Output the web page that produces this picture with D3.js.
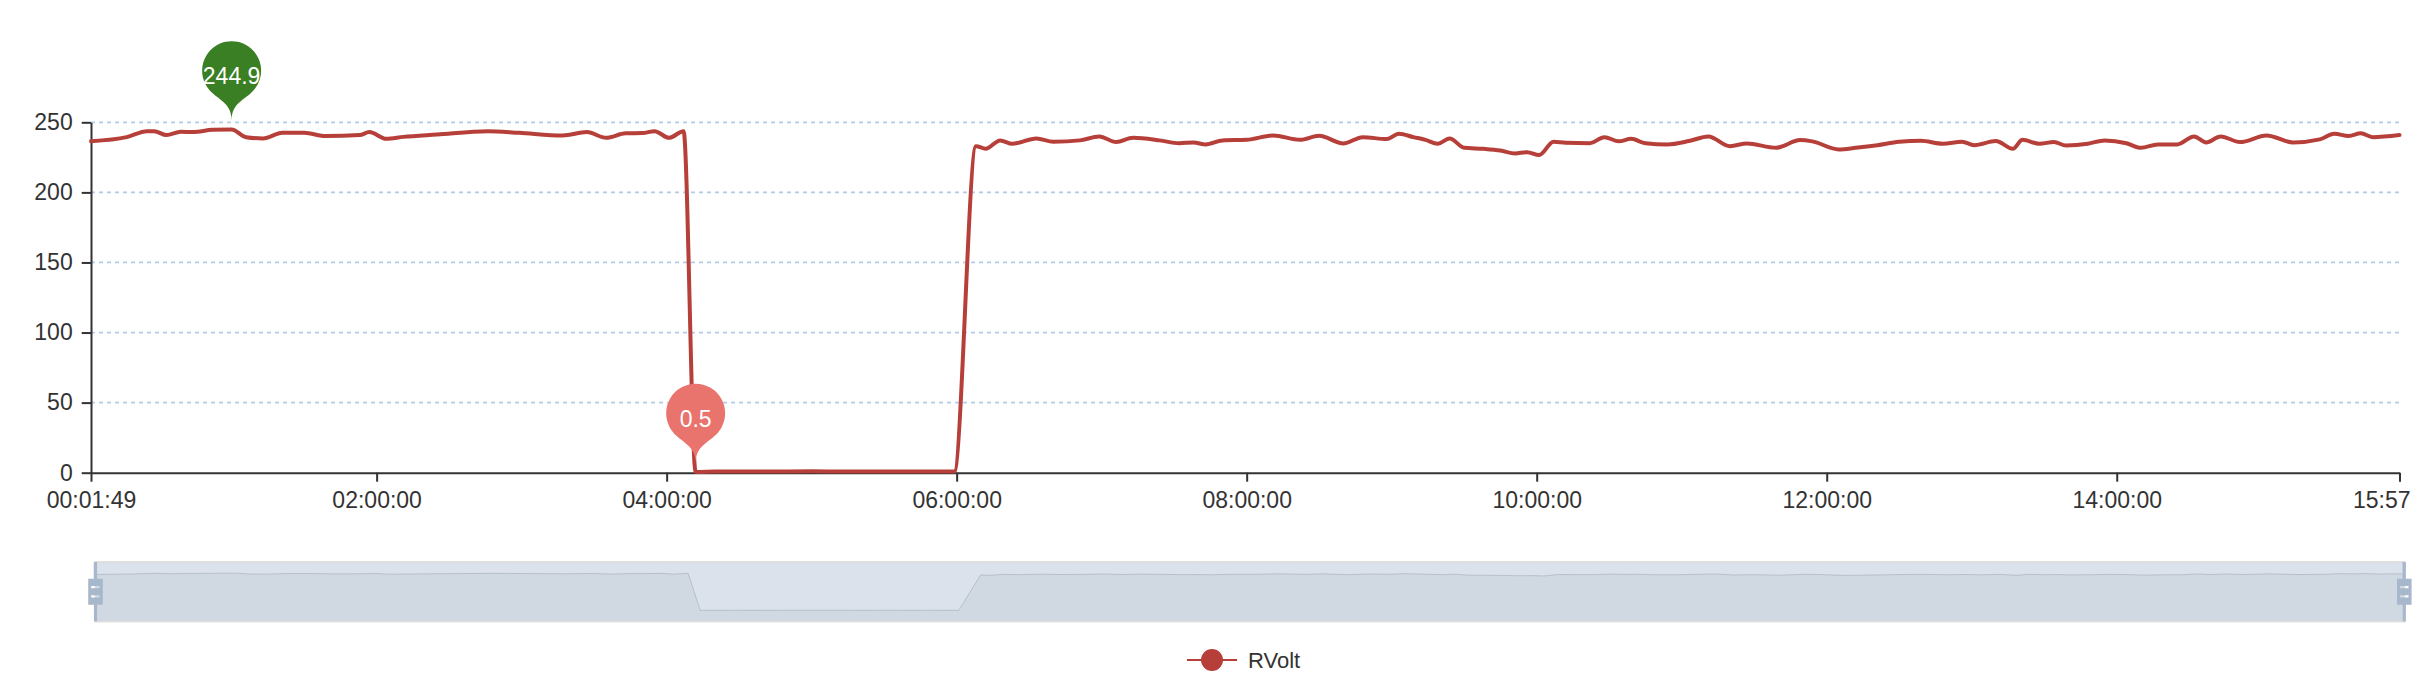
<!DOCTYPE html>
<html><head><meta charset="utf-8">
<script src="https://cdn.jsdelivr.net/npm/d3@7"></script>
<style>
body{margin:0;background:#fff}
svg{display:block}
text{font-family:"Liberation Sans",Arial,Helvetica,sans-serif}
</style>
</head><body>
<svg id="chart" width="2414" height="690"></svg>
<script>
const seriesName = "RVolt";
const times = [
"00:01:49","00:16:33","00:25:00","00:28:00","00:33:00","00:39:00","00:44:00","00:52:00","01:00:00","01:06:00",
"01:13:00","01:21:00","01:30:00","01:39:00","01:53:00","01:57:00","02:04:00","02:11:00","02:25:00","02:46:00",
"02:59:00","03:17:00","03:27:00","03:35:00","03:43:00","03:50:00","03:55:00","04:01:00","04:07:00","04:12:00",
"04:20:00","04:30:00","04:40:00","04:50:00","05:00:00","05:10:00","05:20:00","05:30:00","05:40:00","05:50:00",
"05:59:00","06:08:00","06:12:00","06:18:00","06:23:00","06:33:00","06:40:00","06:51:00","06:59:00","07:06:00",
"07:13:00","07:24:00","07:32:00","07:38:00","07:43:00","07:50:00","08:00:00","08:11:00","08:22:00","08:30:00",
"08:40:00","08:48:00","08:58:00","09:03:00","09:09:00","09:14:00","09:19:00","09:24:00","09:30:00","09:38:00",
"09:45:00","09:51:00","09:56:00","10:01:00","10:07:00","10:12:00","10:22:00","10:28:00","10:34:00","10:39:00",
"10:45:00","10:54:00","11:03:00","11:11:00","11:20:00","11:27:00","11:39:00","11:49:00","11:54:00","12:05:00",
"12:12:00","12:21:00","12:30:00","12:39:00","12:48:00","12:56:00","13:01:00","13:10:00","13:17:00","13:21:00",
"13:28:00","13:34:00","13:39:00","13:48:00","13:55:00","14:04:00","14:10:00","14:17:00","14:25:00","14:32:00",
"14:37:00","14:43:00","14:51:00","15:02:00","15:13:00","15:24:00","15:30:00","15:36:00","15:41:00","15:46:00",
"15:57:00"
];
const values = [
236.5,239.4,243.7,243.7,240.9,243.2,243.0,244.6,244.9,239.4,
238.5,242.5,242.5,240.2,240.9,243.0,238.2,239.6,241.3,243.7,
242.5,240.6,243.0,238.9,242.1,242.3,243.7,238.9,243.7,0.5,
0.8,0.9,0.8,0.9,1.0,0.9,0.8,0.9,0.8,0.9,
0.9,233.0,231.1,237.1,234.7,238.5,236.1,237.1,239.9,235.9,
238.9,237.1,235.1,235.6,234.2,237.1,237.5,240.6,237.5,240.4,
234.9,239.4,238.0,241.8,239.4,237.5,234.7,238.5,231.8,231.1,
229.9,227.8,228.7,226.6,236.1,235.4,235.1,239.4,236.4,238.2,
235.1,234.2,236.6,239.9,233.0,234.9,231.8,237.3,236.4,230.6,
231.8,233.7,236.1,236.8,234.7,236.1,233.7,236.6,231.1,237.5,
234.7,235.9,233.5,234.7,237.1,235.1,231.8,234.2,234.2,239.9,
235.6,239.9,235.9,240.6,235.6,237.8,241.8,240.2,242.1,239.4,
240.9
];
const yTicks = [0, 50, 100, 150, 200, 250];
const xTickTimes = ["00:01:49","02:00:00","04:00:00","06:00:00","08:00:00","10:00:00","12:00:00","14:00:00","15:57:00"];
const xTickLabels = ["00:01:49","02:00:00","04:00:00","06:00:00","08:00:00","10:00:00","12:00:00","14:00:00","15:57"];

const parse = d3.timeParse("%H:%M:%S");
const data = times.map((t, i) => ({ t: parse(t), v: values[i] }));
const svg = d3.select("#chart");

const L = 91, R = 2399.5, T = 122.3, B = 472.7;
const x = d3.scaleTime().domain([parse(xTickTimes[0]), parse(xTickTimes[xTickTimes.length - 1])]).range([L, R]);
const y = d3.scaleLinear().domain([0, 250]).range([B, T]);

// grid
svg.append("g").selectAll("line").data(yTicks.filter(d => d > 0)).join("line")
  .attr("x1", L).attr("x2", R).attr("y1", d => y(d)).attr("y2", d => y(d))
  .attr("stroke", "#b5cce8").attr("stroke-width", 1.8).attr("stroke-dasharray", "4,4");

// y axis
const gy = svg.append("g").attr("transform", `translate(${L},0)`)
  .call(d3.axisLeft(y).tickValues(yTicks).tickSize(9.3).tickSizeOuter(0).tickPadding(9));
gy.attr("color", "#333");
gy.selectAll("path,line").attr("stroke-width", 2);
gy.selectAll("text").attr("font-size", 23).attr("fill", "#333").attr("font-family", null);

// x axis
const gx = svg.append("g").attr("transform", `translate(0,${B})`)
  .call(d3.axisBottom(x).tickValues(xTickTimes.map(parse)).tickFormat((d, i) => xTickLabels[i]).tickSize(9).tickSizeOuter(0));
gx.attr("color", "#333");
gx.selectAll("path,line").attr("stroke-width", 2);
const xt = gx.selectAll("text").attr("font-size", 23).attr("fill", "#333").attr("font-family", null)
  .attr("y", 27).attr("dy", "0.35em");
// last label kept inside the canvas (right-aligned), as in the reference
xt.filter((d, i, n) => i === n.length - 1).attr("text-anchor", "end").attr("x", 2410 - R);

// line
const lineColor = "#b73f39";
svg.append("path").datum(data)
  .attr("d", d3.line().x(d => x(d.t)).y(d => y(d.v)).curve(d3.curveMonotoneX))
  .attr("fill", "none").attr("stroke", lineColor).attr("stroke-width", 4)
  .attr("stroke-linejoin", "round").attr("stroke-linecap", "round");

// mark points (pins)
function pinPath(px, tipY, r, h) {
  const dy = r * r / (h - r);
  const cy = tipY - h + r + dy;
  const a = Math.asin(dy / r);
  const dx = Math.cos(a) * r;
  const tx = Math.sin(a), ty = Math.cos(a);
  const c1 = r * 0.6, c2 = r * 0.7;
  const p = d3.path();
  p.moveTo(px - dx, cy + dy);
  p.arc(px, cy, r, Math.PI - a, Math.PI * 2 + a);
  p.bezierCurveTo(px + dx - tx * c1, cy + dy + ty * c1, px, tipY - c2, px, tipY);
  p.bezierCurveTo(px, tipY - c2, px - dx + tx * c1, cy + dy + ty * c1, px - dx, cy + dy);
  p.closePath();
  return p.toString();
}
const maxPt = d3.greatest(data, d => d.v);
const minPt = d3.least(data, d => d.v);
[[maxPt, "#3a7f24"], [minPt, "#e9736d"]].forEach(([d, col]) => {
  const px = x(d.t), tip = y(d.v) - 9;
  svg.append("path").attr("d", pinPath(px, tip, 29.5, 93)).attr("fill", col);
  svg.append("text").attr("x", px).attr("y", tip - 44).attr("dy", "0.35em")
    .attr("text-anchor", "middle").attr("font-size", 23).attr("fill", "#fff").text(d.v);
});

// data zoom slider
const SL = 95.5, SR = 2404.3, ST = 562, SB = 621.5;
const sx = d3.scaleTime().domain(x.domain()).range([SL, SR]);
const ext = d3.extent(values);
const off = (ext[1] - ext[0]) * 0.3;
const sy = d3.scaleLinear().domain([ext[0] - off, ext[1] + off]).range([SB, ST]);
const zg = svg.append("g");
zg.append("path").datum(data)
  .attr("d", d3.area().x(d => sx(d.t)).y0(SB).y1(d => sy(d.v)))
  .attr("fill", "#2f4554").attr("fill-opacity", 0.09);
zg.append("path").datum(data)
  .attr("d", d3.line().x(d => sx(d.t)).y(d => sy(d.v)))
  .attr("fill", "none").attr("stroke", "#2f4554").attr("stroke-opacity", 0.3).attr("stroke-width", 0.9);
zg.append("rect").attr("x", SL).attr("y", ST).attr("width", SR - SL).attr("height", SB - ST)
  .attr("fill", "rgb(167,183,204)").attr("fill-opacity", 0.4);
zg.append("rect").attr("x", SL).attr("y", ST).attr("width", SR - SL).attr("height", SB - ST)
  .attr("fill", "none").attr("stroke", "#ddd").attr("stroke-width", 1.8);
const handleIcon = "M8.2,13.6V3.9H6.3v9.7H3.1v14.9h3.3v9.7h1.8v-9.7h3.3V13.6H8.2z M9.7,24.4H4.8v-1.4h4.9V24.4z M9.7,19.1H4.8v-1.4h4.9V19.1z";
const hs = (SB - ST) / (38.2 - 3.9);
[SL, SR].forEach(ex => {
  zg.append("path").attr("d", handleIcon).attr("fill", "#a7b7cc").attr("fill-rule", "evenodd")
    .attr("transform", `translate(${ex - 7.3 * hs},${ST - 3.9 * hs}) scale(${hs})`);
});

// legend
const lg = svg.append("g").attr("transform", "translate(1212,660)");
lg.append("line").attr("x1", -25).attr("x2", 25).attr("stroke", lineColor).attr("stroke-width", 2.2);
lg.append("circle").attr("r", 11).attr("fill", lineColor);
lg.append("text").attr("x", 36).attr("dy", "0.35em").attr("font-size", 22).attr("fill", "#333").text(seriesName);
</script>
</body></html>
